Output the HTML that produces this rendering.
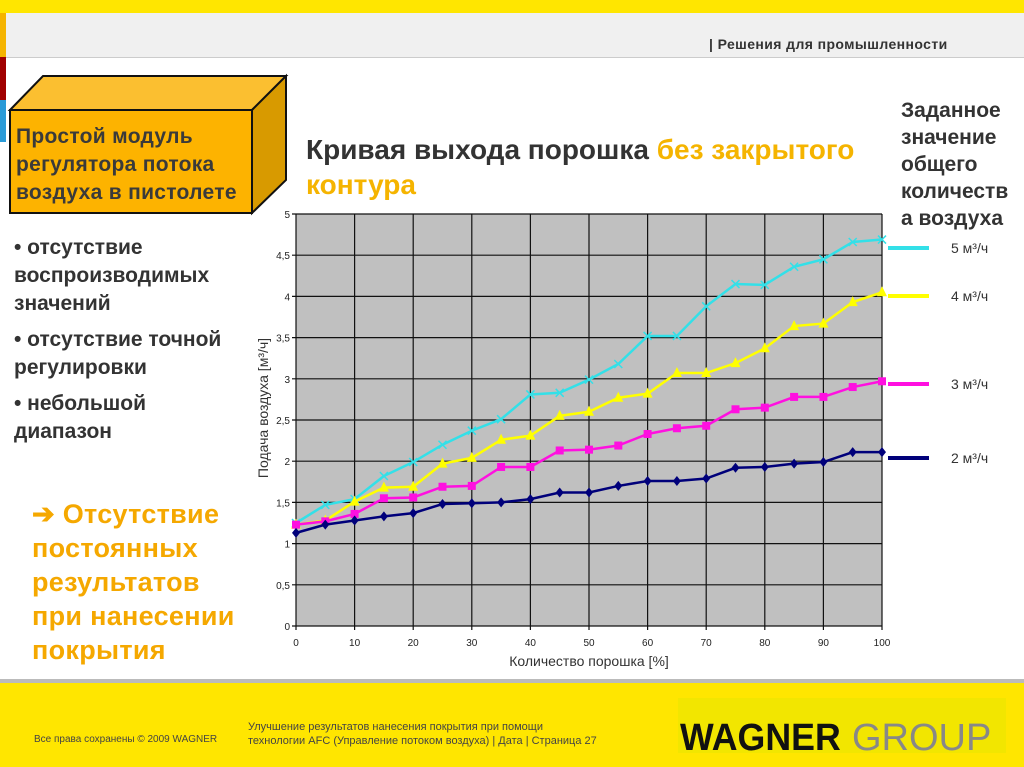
<!DOCTYPE html>
<html><head><meta charset="utf-8">
<style>
body{margin:0;width:1024px;height:767px;overflow:hidden;background:#fff;font-family:"Liberation Sans",sans-serif;position:relative}
.a{position:absolute;margin:0}
</style></head><body>
<div class="a" style="left:0;top:0;width:1024px;height:13px;background:#ffe600"></div>
<div class="a" style="left:0;top:13px;width:1024px;height:44px;background:#f0f0f0;border-bottom:1px solid #ccc"></div>
<div class="a" style="left:0;top:13px;width:6px;height:44px;background:#f5b400"></div>
<div class="a" style="left:0;top:57px;width:6px;height:43px;background:#a00000"></div>
<div class="a" style="left:0;top:100px;width:6px;height:42px;background:#2a9bd8"></div>
<div class="a" style="left:709px;top:36px;font-size:14px;font-weight:bold;color:#333;letter-spacing:0.4px">| Решения для промышленности</div>

<svg class="a" style="left:0;top:0" width="300" height="230">
<polygon points="10,110 43,76 286,76 252,110" fill="#fbbf30" stroke="#111" stroke-width="2"/>
<polygon points="252,110 286,76 286,180 252,213" fill="#d89a00" stroke="#111" stroke-width="2"/>
<rect x="10" y="110" width="242" height="103" fill="#fdb300" stroke="#111" stroke-width="2"/>
</svg>
<div class="a" style="left:16px;top:123px;font-size:21px;font-weight:bold;color:#3a3a3a;line-height:28px;letter-spacing:0.3px">Простой модуль<br>регулятора потока<br>воздуха в пистолете</div>

<div class="a" style="left:14px;top:234px;font-size:21px;font-weight:bold;color:#333;line-height:28px">
<div>• отсутствие<br>воспроизводимых<br>значений</div>
<div style="margin-top:8px">• отсутствие точной<br>регулировки</div>
<div style="margin-top:8px">• небольшой<br>диапазон</div></div>
<div class="a" style="left:32px;top:497px;font-size:27px;font-weight:bold;color:#f5a800;line-height:34px;letter-spacing:0.3px">➔ Отсутствие<br>постоянных<br>результатов<br>при нанесении<br>покрытия</div>

<div class="a" style="left:306px;top:132px;font-size:28px;font-weight:bold;color:#333;line-height:35px;white-space:nowrap">Кривая выхода порошка <span style="color:#f5b400">без закрытого<br>контура</span></div>

<div class="a" style="left:901px;top:97px;font-size:21px;font-weight:bold;color:#333;line-height:27px">Заданное<br>значение<br>общего<br>количеств<br>а воздуха</div>

<svg class="a" id="chart" style="left:0;top:0" width="1024" height="767"></svg>

<div class="a" style="left:0;top:679px;width:1024px;height:4px;background:#bbb"></div>
<div class="a" style="left:0;top:683px;width:1024px;height:84px;background:#ffe600"></div>
<div class="a" style="left:34px;top:734px;font-size:10px;color:#444">Все права сохранены © 2009 WAGNER</div>
<div class="a" style="left:248px;top:720px;font-size:11px;color:#444;line-height:14px">Улучшение результатов нанесения покрытия при помощи<br>технологии AFC (Управление потоком воздуха) | Дата | Страница 27</div>
<div class="a" style="left:678px;top:698px;width:328px;height:55px;background:#f2e600"></div>
<div class="a" style="left:680px;top:718px;font-size:38px;line-height:40px;white-space:nowrap"><span style="font-weight:bold;color:#111;display:inline-block;transform:scaleX(0.94);transform-origin:left;width:172px">WAGNER</span><span style="color:#888">GROUP</span></div>

<script>
const xVals=[0,5,10,15,20,25,30,35,40,45,50,55,60,65,70,75,80,85,90,95,100];
const s2=[1.13,1.23,1.28,1.33,1.37,1.48,1.49,1.50,1.54,1.62,1.62,1.70,1.76,1.76,1.79,1.92,1.93,1.97,1.99,2.11,2.11];
const s3=[1.23,1.27,1.36,1.55,1.56,1.69,1.70,1.93,1.93,2.13,2.14,2.19,2.33,2.40,2.43,2.63,2.65,2.78,2.78,2.90,2.97];
const s4=[1.23,1.28,1.51,1.68,1.69,1.97,2.04,2.26,2.31,2.55,2.60,2.77,2.82,3.07,3.07,3.19,3.37,3.64,3.67,3.93,4.05];
const s5=[1.25,1.47,1.54,1.82,1.99,2.20,2.37,2.51,2.81,2.83,2.99,3.18,3.52,3.52,3.88,4.15,4.14,4.36,4.45,4.66,4.69];
const yTicks=["0","0,5","1","1,5","2","2,5","3","3,5","4","4,5","5"];
const xTicks=["0","10","20","30","40","50","60","70","80","90","100"];
const legendLabels=["5 м³/ч","4 м³/ч","3 м³/ч","2 м³/ч"];
const X=v=>296+v*5.86, Y=v=>626-v*82.4;
const svg=document.getElementById('chart'),NS='http://www.w3.org/2000/svg';
function mk(t,a,p){const e=document.createElementNS(NS,t);for(const k in a)e.setAttribute(k,a[k]);(p||svg).appendChild(e);return e;}
let bg=mk('rect',{x:X(0),y:Y(5),width:X(100)-X(0),height:Y(0)-Y(5),fill:'#c0c0c0'});


yTicks.forEach((t,i)=>{const v=i*0.5;
 const l=mk('line',{x1:X(0)-4,x2:X(100),y1:Y(v),y2:Y(v),stroke:'#111','stroke-width':1.2});
 
 
 const tx=mk('text',{x:X(0)-6,y:Y(v)+4,'text-anchor':'end','font-size':10,fill:'#222'});tx.textContent=t;
 
 });
xTicks.forEach((t,i)=>{const v=i*10;
 const l=mk('line',{x1:X(v),x2:X(v),y1:Y(5),y2:Y(0)+4,stroke:'#111','stroke-width':1.2});
 
 
 const tx=mk('text',{x:X(v),y:Y(0)+20,'text-anchor':'middle','font-size':10,fill:'#222'});tx.textContent=t;
 
 });
let xt=mk('text',{x:589,y:666,'text-anchor':'middle','font-size':14,fill:'#333'});xt.textContent='Количество порошка [%]';


let yt=mk('text',{x:0,y:0,'text-anchor':'middle','font-size':14,fill:'#333',transform:'translate(268,408) rotate(-90)'});yt.textContent='Подача воздуха [м³/ч]';


const series=[[s5,'#33e0e8','x',248],[s4,'#ffff00','tri',296],[s3,'#ff10e0','sq',384],[s2,'#00007a','dia',458]];
series.forEach(([d,c,m,ly],si)=>{
 const pl=mk('polyline',{points:d.map((v,i)=>X(xVals[i])+','+Y(v)).join(' '),fill:'none',stroke:c,'stroke-width':2.5});
 
 
 d.forEach((v,i)=>{const x=X(xVals[i]),y=Y(v);let e;
  if(m=='x')e=mk('path',{d:`M${x-4},${y-4}L${x+4},${y+4}M${x-4},${y+4}L${x+4},${y-4}`,stroke:c,'stroke-width':1.5});
  else if(m=='tri')e=mk('polygon',{points:`${x},${y-6} ${x-5},${y+4} ${x+5},${y+4}`,fill:c});
  else if(m=='sq')e=mk('rect',{x:x-4,y:y-4,width:8,height:8,fill:c});
  else e=mk('polygon',{points:`${x},${y-5} ${x+4},${y} ${x},${y+5} ${x-4},${y}`,fill:c});
  
  });
 const ll=mk('line',{x1:888,x2:929,y1:ly,y2:ly,stroke:c,'stroke-width':4});
 
 
 const lt=mk('text',{x:951,y:ly+5,'font-size':14,fill:'#333'});lt.textContent=legendLabels[si];
 
 
});
</script>
</body></html>
